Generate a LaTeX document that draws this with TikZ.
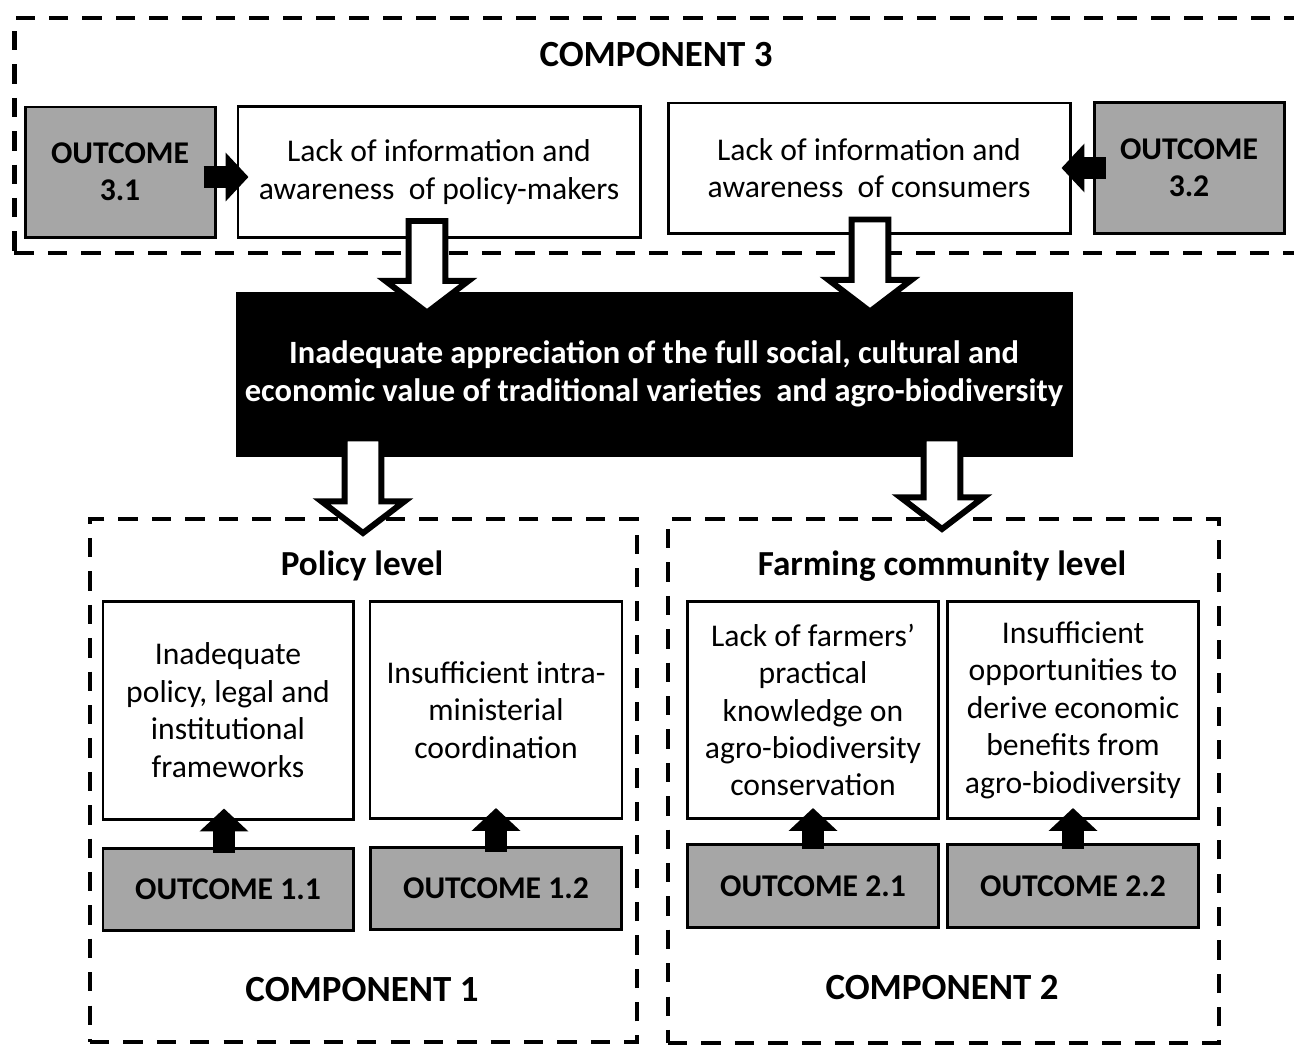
\documentclass[tikz,border=0pt]{standalone}
\usepackage{fontspec}
\setmainfont{Carlito}
\usetikzlibrary{arrows.meta, positioning, calc}

% white block arrow pointing down, from #1 (top of shaft) to #2 (tip)
\newcommand{\hollowdown}[2]{%
  \draw[hollow] let \p1=#1, \p2=#2 in
    (\x1-10.5pt,\y1) -- (\x1+10.5pt,\y1) -- (\x1+10.5pt,\y2+18pt)
    -- (\x1+23.6pt,\y2+18pt) -- (\x1,\y2) -- (\x1-23.6pt,\y2+18pt)
    -- (\x1-10.5pt,\y2+18pt) -- cycle;}

\begin{document}
\begin{tikzpicture}[x=0.2mm, y=-0.2mm, font=\fontsize{18pt}{21.3pt}\selectfont,
          compbox/.style={rectangle, draw, line width=2.3pt, dash pattern=on 11pt off 8pt},
          causebox/.style={rectangle, draw, line width=1.7pt, fill=white, align=center, inner sep=2pt},
          outbox/.style={rectangle, draw, line width=1.7pt, fill=black!35, align=center, font=\fontsize{18pt}{21.3pt}\selectfont\bfseries},
          darkbox/.style={rectangle, draw, line width=1.7pt, fill=black, text=white, align=center, font=\fontsize{18.5pt}{21.3pt}\selectfont\bfseries},
          title/.style={font=\fontsize{20pt}{24pt}\selectfont\bfseries},
          comptitle/.style={font=\fontsize{21pt}{24pt}\selectfont\bfseries},
          hollow/.style={draw, fill=white, line width=3.4pt},
          blackarrow/.style={line width=12pt, -{Triangle[width=27pt, length=13pt]}}]
        \useasboundingbox (0,0) rectangle (1294,1046);

        % dashed component frames
        \node [compbox, minimum width=259mm, minimum height=47mm] (comp3) at (662,135.5) {};
        \node [compbox, minimum width=109.4mm, minimum height=104.6mm] (comp1) at (363.5,780.5) {};
        \node [compbox, minimum width=110.2mm, minimum height=104.8mm] (comp2) at (943.5,781) {};

        % component 3
        \node [comptitle] (c3label) at (656,55) {COMPONENT 3};
        \node [causebox, minimum width=80.4mm, minimum height=26.2mm] (lack1) at (439,172) {Lack of information and\\awareness\ \ of policy-makers};
        \node [outbox, minimum width=38mm, minimum height=26mm, left=4mm of lack1] (out31) {OUTCOME\\3.1};
        \node [causebox, minimum width=80.4mm, minimum height=26mm] (lack2) at (869,168) {Lack of information and\\awareness\ \ of consumers};
        \node [outbox, minimum width=38mm, minimum height=26.2mm, right=4.2mm of lack2] (out32) {OUTCOME\\3.2};

        % core problem
        \node [darkbox, minimum width=166.8mm, minimum height=32.4mm] (dark) at (654,374) {Inadequate appreciation of the full social, cultural and\\economic value of traditional varieties\ \ and agro-biodiversity};

        % component 1
        \node [title] (policy) at (362,566) {Policy level};
        \node [causebox, minimum width=50mm, minimum height=43.6mm] (pol1) at (228,710) {Inadequate\\policy, legal and\\institutional\\frameworks};
        \node [causebox, minimum width=50.4mm, minimum height=43.4mm, right=2.8mm of pol1] (pol2) {Insufficient intra-\\ministerial\\coordination};
        \node [outbox, minimum width=50mm, minimum height=16.4mm, below=5.2mm of pol1] (out11) {OUTCOME 1.1};
        \node [outbox, minimum width=50.2mm, minimum height=16.4mm, below=5.2mm of pol2] (out12) {OUTCOME 1.2};
        \node [comptitle] (c1label) at (362,990) {COMPONENT 1};

        % component 2
        \node [title] (farming) at (942,566) {Farming community level};
        \node [causebox, minimum width=50.2mm, minimum height=43.4mm] (far1) at (813,710) {Lack of farmers’\\practical\\knowledge on\\agro-biodiversity\\conservation};
        \node [causebox, minimum width=50.2mm, minimum height=43.4mm, right=1.2mm of far1] (far2) {Insufficient\\opportunities to\\derive economic\\benefits from\\agro-biodiversity};
        \node [outbox, minimum width=50.2mm, minimum height=16.6mm, below=4.6mm of far1] (out21) {OUTCOME 2.1};
        \node [outbox, minimum width=50.2mm, minimum height=16.6mm, below=4.6mm of far2] (out22) {OUTCOME 2.2};
        \node [comptitle] (c2label) at (942,988) {COMPONENT 2};

        % outcomes act on causes
        \draw [blackarrow] ($(out31.east)+(-13,5)$) -- ($(lack1.west)+(12,5)$);
        \draw [blackarrow] ($(out32.west)+(13,0)$) -- ($(lack2.east)+(-10,0)$);
        \draw [blackarrow] ($(out11.north)+(-4,6)$) -- ($(pol1.south)+(-4,-12)$);
        \draw [blackarrow] ($(out12.north)+(0,6)$) -- ($(pol2.south)+(0,-12)$);
        \draw [blackarrow] ($(out21.north)+(0,6)$) -- ($(far1.south)+(0,-12)$);
        \draw [blackarrow] ($(out22.north)+(0,6)$) -- ($(far2.south)+(0,-12)$);

        % causal flow
        \hollowdown{($(lack1.south)+(-12,-18)$)}{($(dark.north)+(0,21)$)}
        \hollowdown{($(lack2.south)+(1,-15)$)}{($(dark.north)+(0,20)$)}
        \hollowdown{($(dark.south)+(-291,-18)$)}{($(comp1.north)+(0,16)$)}
        \hollowdown{($(dark.south)+(288,-18)$)}{($(comp2.north)+(0,12)$)}
      \end{tikzpicture}
\end{document}
